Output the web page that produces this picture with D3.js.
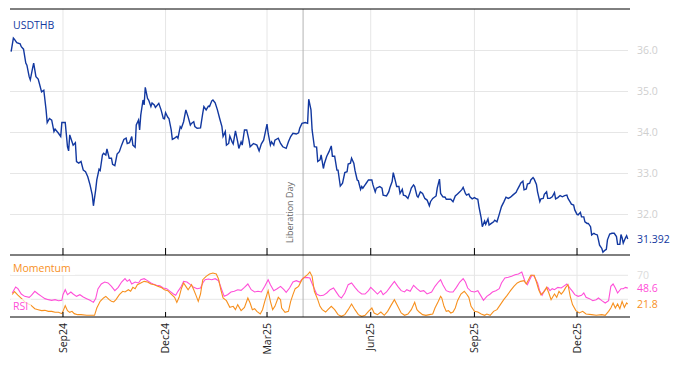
<!DOCTYPE html>
<html>
<head>
<meta charset="utf-8">
<script src="https://cdn.jsdelivr.net/npm/d3@7"></script>
<style>
  body { margin: 0; background: #fff; }
  svg text { font-family: "Open Sans", sans-serif; }
</style>
</head>
<body>
<div id="chart"></div>
<script>
// Dates are stored as day offsets from the first day shown on the axis
const startDate = new Date(2024, 6, 16);
const endDate = new Date(2026, 0, 17);

// USDTHB close
const priceDays = [
  1,3,4,6,9,10,12,14,15,17, 18,20,21,23,25,26,28,30,32,33, 35,37,39,40,43,45,46,49,51,52,
  53,55,56,58,59,61,63,65,67,69, 71,73,74,76,77,79,80,82,83,85, 86,88,90,91,93,95,97,99,101,103,
  104,106,108,109,111,112,114,115,116,118, 119,120,122,123,125,126,128,129,132,134, 136,137,138,140,141,143,144,146,148,149,
  151,152,154,156,158,160,161,163,164,166, 169,171,172,174,176,177,179,180,182,184, 186,188,189,191,192,194,195,197,198,200,
  202,203,205,206,208,210,212,213,216,219, 221,223,225,228,229,231,232,234,235,238, 240,242,245,247,249,251,254,256,257,259,
  262,264,265,267,268,270,272,273,275,276, 278,279,281,283,285,286,288,290,291,293, 295,297,299,300,302,303,305,306,308,309,
  311,312,313,315,316,318,321,322,324,325, 328,330,331,334,336,337,339,340,342,343, 345,346,348,349,351,353,355,356,358,359,
  361,362,364,366,368,370,372,373,375,378, 379,381,382,384,386,387,390,391,393,395, 397,399,401,402,404,405,407,408,410,412,
  413,415,416,418,419,421,422,424,425,427, 429,430,432,434,436,438,440,442,444,446, 449,450,452,453,455,456,458,459,461,462,
  464,465,467,468,470,471,473,474,476,477, 479,481,483,484,486,488,490,492,494,495, 497,498,500,501,503,504,506,507,509,510,
  512,513,515,516,518,519,521,522,523,525, 526,528,529,530,532,534,536,538,539,541, 542,543,544,546,547,548
];
const priceValues = [
  35.96,36.29,36.26,36.18,36.15,36.08,36.02,35.68,35.63,35.35, 35.27,35.55,35.68,35.35,35.29,35.19,34.98,35.02,34.54,34.23, 34.33,34.29,34.01,34.07,33.97,33.89,34.23,34.23,33.64,33.54,
  33.93,33.76,33.68,33.74,33.28,33.24,33.28,33.07,33.03,32.91, 32.71,32.46,32.20,32.59,32.83,33.09,33.06,33.44,33.48,33.44, 33.59,33.36,33.36,33.21,33.18,33.46,33.52,33.68,33.82,33.85,
  33.72,33.74,33.89,33.68,33.63,34.17,34.29,34.05,34.41,34.78, 34.66,35.09,34.82,34.78,34.62,34.71,34.66,34.60,34.70,34.54, 34.33,34.32,34.47,34.36,34.33,34.05,33.82,33.85,33.89,33.85,
  34.13,34.09,34.25,34.54,34.37,34.17,34.21,34.25,34.13,34.09, 34.10,34.46,34.62,34.54,34.63,34.62,34.76,34.78,34.71,34.54, 34.33,34.13,33.89,34.01,33.68,33.72,33.90,33.76,33.71,34.03,
  33.76,33.60,33.76,33.68,34.05,34.05,33.80,33.64,33.72,33.68, 33.54,33.71,33.80,34.19,33.97,33.68,33.76,33.68,33.80,33.85, 33.72,33.64,33.60,33.76,33.89,33.97,33.95,33.98,34.09,34.21,
  34.23,34.21,34.80,34.54,34.05,33.64,33.63,33.28,33.32,33.44, 33.11,33.24,33.41,33.52,33.66,33.41,33.41,33.07,33.07,32.68, 32.75,33.01,33.03,33.22,33.24,33.36,33.24,33.07,32.83,32.81,
  32.60,32.67,32.63,32.71,32.75,32.83,32.83,32.71,32.54,32.63, 32.67,32.63,32.46,32.44,32.54,32.64,32.79,33.01,32.79,32.67, 32.67,32.50,32.60,32.46,32.44,32.38,32.54,32.63,32.71,32.67,
  32.44,32.41,32.54,32.50,32.38,32.34,32.20,32.30,32.38,32.44, 32.63,32.85,32.50,32.42,32.41,32.36,32.36,32.36,32.30,32.44, 32.49,32.54,32.60,32.65,32.50,32.46,32.49,32.42,32.37,32.40,
  32.38,32.36,32.18,31.90,31.69,31.83,31.75,31.88,31.73,31.77, 31.81,31.85,31.81,31.99,32.18,32.29,32.41,32.38,32.41,32.46, 32.53,32.59,32.69,32.75,32.80,32.59,32.61,32.73,32.75,32.83,
  32.89,32.85,32.72,32.54,32.30,32.37,32.38,32.48,32.54,32.38, 32.38,32.42,32.52,32.37,32.40,32.45,32.42,32.45,32.46,32.38, 32.29,32.24,32.22,32.10,31.99,31.98,32.04,31.93,31.93,31.81,
  31.77,31.77,31.69,31.49,31.53,31.51,31.49,31.37,31.24,31.16, 31.07,31.12,31.14,31.37,31.51,31.53,31.53,31.45,31.26,31.26, 31.50,31.42,31.29,31.42,31.47,31.392
];

// RSI
const rsiDays = [
  2,5,7,10,13,17,19,22,25,28, 31,34,37,40,43,46,47,49,51,54, 56,59,62,65,68,71,74,76,78,81,
  84,87,90,93,96,99,102,104,106,108, 111,114,116,119,122,125,127,130,133,136, 139,142,145,147,149,152,154,157,160,163,
  166,169,171,173,176,179,182,185,188,190, 193,196,199,202,205,208,211,214,217,220, 223,226,229,231,234,237,240,243,245,248,
  251,254,257,260,263,266,269,272,275,278, 281,284,287,289,292,294,297,300,303,306, 309,312,315,318,320,323,326,329,331,334,
  337,341,344,347,350,352,355,358,361,364, 367,370,374,377,380,382,384,387,390,393, 396,399,402,404,406,409,412,415,418,420,
  423,426,428,431,434,436,439,442,445,448, 451,454,457,459,461,463,465,468,470,472, 474,477,479,481,483,486,489,491,494,497,
  499,501,504,507,509,511,514,517,520,522, 525,528,531,533,535,537,539,542,544,546, 548
];
const rsiValues = [
  40.5,50.5,47.7,38.8,34.9,33.3,36.6,43.3,38.8,34.9, 31.1,29.4,28.3,29.4,27.7,28.3,37.7,46,37.7,42.2, 38.8,34.9,37.7,33.8,31.1,28.3,24.9,31.1,47.2,55.5,
  58.8,57.2,51.6,44.4,49.9,58.8,64.4,59.9,62.7,55.5, 58.8,57.2,62.7,64.4,61.1,57.2,55.5,53.3,52.7,48.8, 47.7,43.3,38.8,36.6,43.3,51.6,59.9,58.8,54.4,49.9,
  47.7,48.8,57.2,62.7,63.8,62.7,64.4,61,45,34.9, 37.7,42.2,43.3,46,44.9,49.9,55.5,46,42.2,43.3, 42.2,51.6,62.7,54.4,44.4,47.7,51.6,46,41.6,48.8,
  58.8,61.1,58.8,65.5,66.6,65.5,51.6,38.8,36,36.6, 40.5,46,48.8,43.3,34.9,32.2,40.5,54.4,57.2,49.9, 43.3,38.8,38.8,44.4,49.9,44.4,38.8,44.4,37.7,42.2,
  49.9,59.9,51.6,44.4,42.2,46,43.3,53.3,47.7,43.3, 44.4,39,42,51.6,58.8,62.7,54.4,44.4,42.2,42.2, 49.9,58.8,64.4,58.8,48.8,43.3,42.2,44.4,34.9,28.3,
  34.9,38.8,42.2,44.4,47.7,57.2,65.5,66.6,68.3,71, 72.2,75.5,58.8,54.4,62.7,70,68.3,57.2,43.3,36.6, 44.4,49.9,44.4,47.7,46,49.9,48.8,51.6,55.5,47.7,
  43.3,37.7,34.9,36.6,40.5,33.3,31.1,27.7,29.4,32.2, 27.7,23.8,27.7,51.6,55.5,48.8,40.5,47.7,47.7,49.9, 48.6
];

// Momentum
const momDays = [
  2,4,7,11,14,18,22,25,28,31, 34,37,40,43,46,47,49,51,53,55, 57,60,63,68,72,75,77,80,83,85,
  88,90,92,94,97,100,102,105,107,109, 111,113,116,119,122,125,128,131,134,137, 140,143,146,148,150,152,154,156,158,161,
  163,165,167,169,171,174,177,180,183,185, 187,189,192,195,198,200,202,205,208,211, 213,215,217,219,222,224,226,229,231,233,
  235,238,240,241,244,247,249,251,253,256, 259,262,264,266,268,270,273,275,277,280, 282,285,288,291,294,297,300,303,306,309,
  312,315,318,321,323,326,329,332,335,338, 341,344,347,350,353,356,359,361,363,366, 369,372,375,377,380,382,383,385,387,389,
  391,393,395,397,400,403,405,407,409,412, 415,418,421,423,426,429,432,435,438,441, 444,447,450,453,456,458,460,462,465,467,
  469,471,474,476,478,480,483,485,487,489, 491,493,495,497,499,502,505,508,511,516, 520,525,528,531,533,535,537,539,541,543,
  545,547,548
];
const momValues = [
  38,43,37,30,24,21,14.4,12.7,11.1,11.6, 9.9,9.9,8.3,8.3,6.1,9.9,19.4,11.1,8.3,9.9, 6.1,4.4,4.4,3.3,3.3,3.3,15.5,26.6,32.2,34.9,
  29.4,26.6,25.5,29.4,37.7,43.3,42.2,46,43.3,49.9, 47.7,54.4,57.2,59.9,58.8,55.5,54.4,51.6,49.9,46, 44.4,38.8,33.3,24.9,33.3,47.7,57.2,51.6,46,54.4,
  46,36.6,26.6,38.8,62.7,68.3,72.2,73.8,72.2,64, 46,32.2,27.7,16.6,18.3,12.7,21.1,11.1,16.6,32.2, 23.8,12.7,14.4,9.9,5.5,12.7,26.6,44.4,26.6,12.7,
  18.3,33.3,29.4,15.5,8.3,9.9,26.6,37.7,47.7,51.6, 62.7,68.3,71,75.5,68.3,43.3,29.4,18.3,12.7,8.8, 12.7,18.3,12.7,4.4,1.6,4.4,12.7,22.2,12.7,4.4,
  1.6,3.3,9.9,15.5,7.2,4.4,8.8,3.3,9.9,19.9, 29.4,18.3,7.2,3.3,5.5,12.7,24.9,12.7,8.8,4.4, 3.3,4.4,5.5,15.5,26.6,34.9,32.2,18.3,9.9,11.1,
  7.2,8.8,15.5,27.7,38.8,43.3,38.8,33.3,18.3,9.9, 8.8,5.5,3.3,5.5,3.3,9.9,12.7,21.1,29.4,36.6, 44.4,51.6,57.2,59.9,61.1,55.5,62.7,70,70,58.8,
  46,37.7,43.3,49.9,40.5,29.4,38.8,33.3,43.3,38.8, 43.3,49.9,54.4,34.9,21.1,11.1,7.2,9.9,5.5,4.4, 3.3,4.4,3.3,9.9,15.5,23.8,15.5,22.2,14.4,26.6,
  16.6,23.8,21.8
];

// Axis ticks and the event marker
const monthTicks = ["2024-09-01", "2024-12-01", "2025-03-01", "2025-06-01", "2025-09-01", "2025-12-01"];
const monthLabels = ["Sep24", "Dec24", "Mar25", "Jun25", "Sep25", "Dec25"];
const priceTicks = [32, 33, 34, 35, 36];
const indicatorTicks = [70, 30];
const eventDate = "2025-04-02";
const eventLabel = "Liberation Day";

// Colours
const priceColor = "#1238a0";
const rsiColor = "#ff4fd8";
const momColor = "#f7901e";
const gridColor = "#e6e6e6";

const parseDay = d3.timeParse("%Y-%m-%d");
const toDate = d => d3.timeDay.offset(startDate, d);

const priceData = priceDays.map((d, i) => ({ date: toDate(d), value: priceValues[i] }));
const rsiData = rsiDays.map((d, i) => ({ date: toDate(d), value: rsiValues[i] }));
const momData = momDays.map((d, i) => ({ date: toDate(d), value: momValues[i] }));

// Layout
const width = 681, height = 366;
const plotLeft = 10, plotRight = 630;
const plotTop = 9, priceBottom = 255, indBottom = 317;

const svg = d3.select("#chart").append("svg")
  .attr("width", width)
  .attr("height", height)
  .style("display", "block");

const x = d3.scaleTime().domain([startDate, endDate]).range([plotLeft, plotRight]);
const y = d3.scaleLinear().domain([31, 37]).range([priceBottom, plotTop]);
const yInd = d3.scaleLinear().domain([0, 100]).range([317.3, 257.3]);

// Clip regions
const defs = svg.append("defs");
defs.append("clipPath").attr("id", "clip-price").append("rect")
  .attr("x", plotLeft).attr("y", plotTop).attr("width", plotRight - plotLeft).attr("height", priceBottom - plotTop);
defs.append("clipPath").attr("id", "clip-ind").append("rect")
  .attr("x", plotLeft).attr("y", priceBottom).attr("width", plotRight - plotLeft).attr("height", indBottom - priceBottom);

// Horizontal grid + right labels (price)
const priceAxis = svg.append("g")
  .attr("transform", `translate(628,0)`)
  .call(d3.axisRight(y).tickValues(priceTicks).tickSize(-(628 - plotLeft)).tickPadding(9).tickFormat(d3.format(".1f")));
priceAxis.select(".domain").remove();
priceAxis.selectAll("line").attr("stroke", gridColor);
priceAxis.selectAll("text").attr("fill", "#cfcfcf").style("font-size", "10.5px");

// Horizontal grid (indicators)
svg.append("g").selectAll("line")
  .data(indicatorTicks)
  .enter().append("line")
  .attr("x1", plotLeft).attr("x2", 628)
  .attr("y1", d => yInd(d)).attr("y2", d => yInd(d))
  .attr("stroke", gridColor);

// Vertical grid
svg.append("g").selectAll("line")
  .data(monthTicks)
  .enter().append("line")
  .attr("x1", d => x(parseDay(d))).attr("x2", d => x(parseDay(d)))
  .attr("y1", plotTop).attr("y2", indBottom)
  .attr("stroke", gridColor);

// Event label
const eventX = x(parseDay(eventDate));
const evG = svg.append("g")
  .attr("transform", `translate(${eventX - 10.5},243) rotate(-90)`);
evG.append("rect")
  .attr("x", -1).attr("y", -8).attr("width", 67).attr("height", 11)
  .attr("fill", "#fff");
evG.append("text")
  .attr("x", 0).attr("y", 0)
  .attr("fill", "#666")
  .style("font-size", "9px")
  .text(eventLabel);

svg.append("line")
  .attr("x1", eventX).attr("x2", eventX)
  .attr("y1", plotTop).attr("y2", indBottom)
  .attr("stroke", "#b3b3b3");

// Lines
const priceLine = d3.line().x(d => x(d.date)).y(d => y(d.value));
const indLine = d3.line().x(d => x(d.date)).y(d => yInd(d.value));

svg.append("path")
  .datum(priceData)
  .attr("clip-path", "url(#clip-price)")
  .attr("fill", "none")
  .attr("stroke", priceColor)
  .attr("stroke-width", 1.4)
  .attr("d", priceLine);

svg.append("path")
  .datum(rsiData)
  .attr("clip-path", "url(#clip-ind)")
  .attr("fill", "none")
  .attr("stroke", rsiColor)
  .attr("stroke-width", 1.1)
  .attr("d", indLine);

svg.append("path")
  .datum(momData)
  .attr("clip-path", "url(#clip-ind)")
  .attr("fill", "none")
  .attr("stroke", momColor)
  .attr("stroke-width", 1.1)
  .attr("d", indLine);

// Frame lines
[plotTop, priceBottom, indBottom].forEach(yy => {
  svg.append("line")
    .attr("x1", plotLeft).attr("x2", plotRight)
    .attr("y1", yy).attr("y2", yy)
    .attr("stroke", "#000");
});

// Tick marks
svg.append("g").selectAll("line")
  .data(monthTicks)
  .enter().append("line")
  .attr("x1", d => x(parseDay(d))).attr("x2", d => x(parseDay(d)))
  .attr("y1", priceBottom - 7).attr("y2", priceBottom)
  .attr("stroke", "#000");
svg.append("g").selectAll("line")
  .data(monthTicks)
  .enter().append("line")
  .attr("x1", d => x(parseDay(d))).attr("x2", d => x(parseDay(d)))
  .attr("y1", indBottom - 5).attr("y2", indBottom)
  .attr("stroke", "#000");

// Month labels (rotated)
svg.append("g").selectAll("text")
  .data(monthTicks)
  .enter().append("text")
  .attr("transform", d => `translate(${x(parseDay(d))},323) rotate(-90)`)
  .attr("dy", "0.35em")
  .attr("text-anchor", "end")
  .attr("fill", "#222")
  .style("font-size", "10.5px")
  .text((d, i) => monthLabels[i]);

// Panel titles
svg.append("text")
  .attr("x", 13).attr("y", 29)
  .attr("fill", priceColor)
  .style("font-size", "10.5px")
  .text("USDTHB");

svg.append("rect")
  .attr("x", 11).attr("y", 261).attr("width", 64).attr("height", 14)
  .attr("fill", "#fff").attr("fill-opacity", 0.85);
svg.append("text")
  .attr("x", 13).attr("y", 272)
  .attr("fill", momColor)
  .style("font-size", "10.5px")
  .text("Momentum");

svg.append("rect")
  .attr("x", 11).attr("y", 299).attr("width", 20).attr("height", 13)
  .attr("fill", "#fff").attr("fill-opacity", 0.7);
svg.append("text")
  .attr("x", 13).attr("y", 310)
  .attr("fill", rsiColor)
  .style("font-size", "10.5px")
  .text("RSI");

// Right-hand labels for the indicator panel and last values
svg.append("text")
  .attr("x", 637).attr("y", yInd(70)).attr("dy", "0.35em")
  .attr("fill", "#dcdcdc")
  .style("font-size", "10.5px")
  .text("70");

const lastPrice = priceData[priceData.length - 1];
const lastRsi = rsiData[rsiData.length - 1];
const lastMom = momData[momData.length - 1];

svg.append("text")
  .attr("x", 637).attr("y", y(lastPrice.value)).attr("dy", "0.35em")
  .attr("fill", priceColor)
  .style("font-size", "10.5px")
  .text(d3.format(".3f")(lastPrice.value));

svg.append("text")
  .attr("x", 637).attr("y", yInd(lastRsi.value)).attr("dy", "0.35em")
  .attr("fill", rsiColor)
  .style("font-size", "10.5px")
  .text(d3.format(".1f")(lastRsi.value));

svg.append("text")
  .attr("x", 637).attr("y", yInd(lastMom.value)).attr("dy", "0.35em")
  .attr("fill", momColor)
  .style("font-size", "10.5px")
  .text(d3.format(".1f")(lastMom.value));
</script>
</body>
</html>
